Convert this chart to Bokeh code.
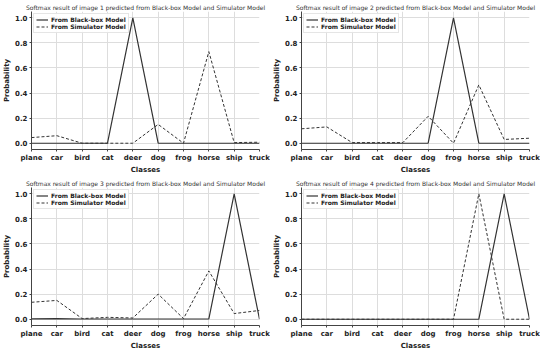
from bokeh.plotting import figure
from bokeh.layouts import gridplot
from bokeh.models import FixedTicker, Range1d, Legend, LegendItem
from bokeh.embed import file_html
from bokeh.resources import INLINE

classes = ["plane", "car", "bird", "cat", "deer", "dog", "frog", "horse", "ship", "truck"]

blackbox_1 = [0, 0, 0, 0, 1.0, 0, 0, 0, 0, 0]
simulator_1 = [0.045, 0.06, 0.0, 0.0, 0.0, 0.15, 0.0, 0.73, 0.005, 0.008]

blackbox_2 = [0, 0, 0, 0, 0, 0, 1.0, 0, 0, 0]
simulator_2 = [0.115, 0.13, 0.005, 0.005, 0.005, 0.215, 0.0, 0.465, 0.03, 0.04]

blackbox_3 = [0.003, 0.005, 0.002, 0.002, 0.002, 0.002, 0.002, 0.002, 1.0, 0.0]
simulator_3 = [0.135, 0.15, 0.005, 0.015, 0.01, 0.2, 0.005, 0.385, 0.045, 0.07]

blackbox_4 = [0, 0, 0, 0, 0, 0, 0, 0, 1.0, 0]
simulator_4 = [0, 0, 0, 0, 0, 0, 0, 1.0, 0, 0]

y_ticks = [0.0, 0.2, 0.4, 0.6, 0.8, 1.0]

series = [(blackbox_1, simulator_1), (blackbox_2, simulator_2),
          (blackbox_3, simulator_3), (blackbox_4, simulator_4)]

FONT = "DejaVu Sans"
LINE = "#333333"


def make(i, bb, sim):
    xs = list(range(len(classes)))
    p = figure(frame_width=228, frame_height=138, output_backend="svg", toolbar_location=None,
               x_range=Range1d(0, len(classes) - 1), y_range=Range1d(-0.05, 1.05),
               min_border_left=0, min_border_right=11, min_border_top=0, min_border_bottom=0)
    p.title.text = f"Softmax result of image {i} predicted from Black-box Model and Simulator Model"
    p.title.text_font = FONT
    p.title.text_font_size = "6px"
    p.title.text_font_style = "normal"
    p.title.text_color = "#333333"
    p.title.align = "center"
    p.title.offset = 0
    p.title.standoff = 2
    p.outline_line_color = None

    r1 = p.line(xs, bb, line_color=LINE, line_width=1.2)
    r2 = p.line(xs, sim, line_color=LINE, line_width=1.0, line_dash="3 2")

    p.xaxis.ticker = FixedTicker(ticks=xs)
    p.xaxis.major_label_overrides = {k: c for k, c in enumerate(classes)}
    p.yaxis.ticker = FixedTicker(ticks=y_ticks)
    p.yaxis.major_label_overrides = {v: f"{v:.1f}" for v in y_ticks}
    p.xaxis.axis_label = "Classes"
    p.yaxis.axis_label = "Probability"
    for ax in (p.xaxis[0], p.yaxis[0]):
        ax.axis_label_text_font = FONT
        ax.axis_label_text_font_size = "7px"
        ax.axis_label_text_font_style = "bold"
        ax.axis_label_text_color = "#222222"
        ax.axis_label_standoff = 1
        ax.major_label_text_font = FONT
        ax.major_label_text_font_size = "7px"
        ax.major_label_text_font_style = "bold"
        ax.major_label_text_color = "#222222"
        ax.major_label_standoff = 2
        ax.minor_tick_line_color = None
        ax.major_tick_in = 0
        ax.major_tick_out = 2
        ax.axis_line_color = "#444444"
        ax.major_tick_line_color = "#444444"
    p.xgrid.grid_line_color = "#dddddd"
    p.ygrid.grid_line_color = "#dddddd"

    legend = Legend(items=[LegendItem(label="From Black-box Model", renderers=[r1]),
                           LegendItem(label="From Simulator Model", renderers=[r2])],
                    location="top_left")
    legend.label_text_font = FONT
    legend.label_text_font_size = "6px"
    legend.label_text_font_style = "bold"
    legend.label_text_color = "#222222"
    legend.label_height = 7
    legend.glyph_height = 7
    legend.glyph_width = 12
    legend.spacing = 0
    legend.padding = 2
    legend.margin = 2
    legend.label_standoff = 3
    legend.border_line_color = "#cccccc"
    legend.background_fill_alpha = 0.9
    p.add_layout(legend)
    return p


plots = [make(i + 1, bb, sim) for i, (bb, sim) in enumerate(series)]
grid = gridplot([[plots[0], plots[1]], [plots[2], plots[3]]], toolbar_location=None)

open("out.html", "w").write(file_html(grid, INLINE))
